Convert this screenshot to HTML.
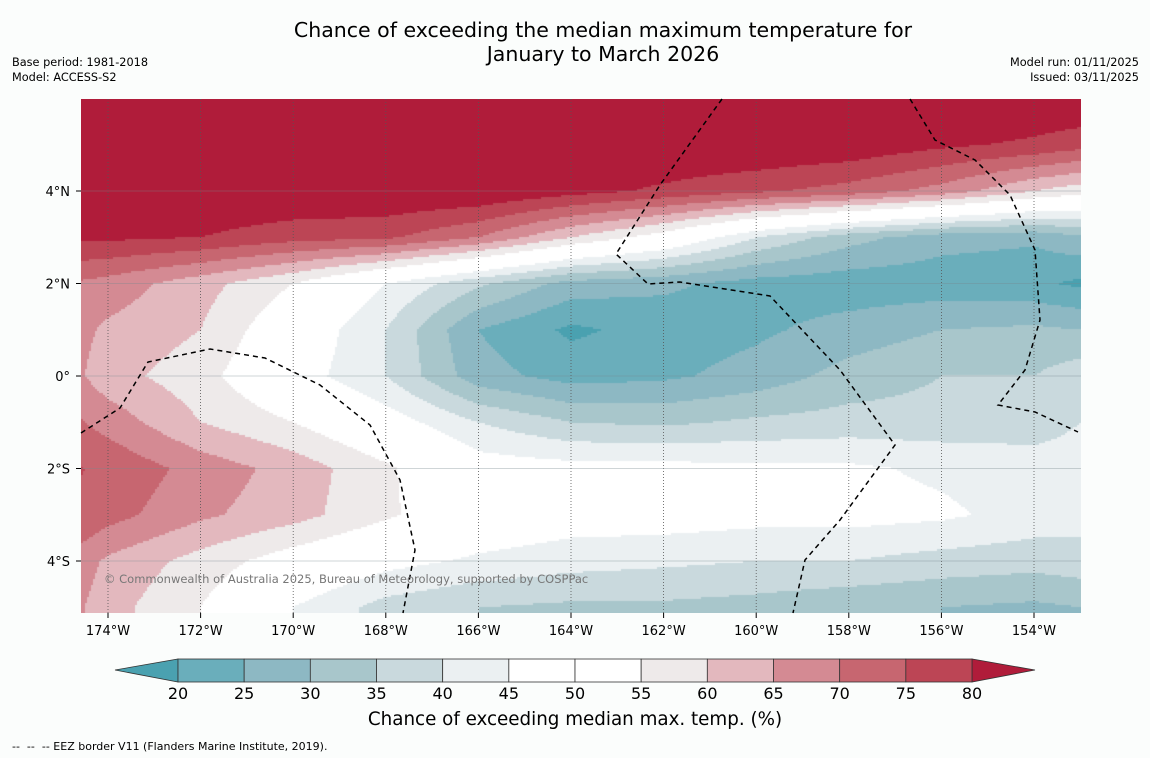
<!DOCTYPE html>
<html><head><meta charset="utf-8"><style>
body{margin:0;background:#fbfdfc;width:1150px;height:758px;overflow:hidden;font-family:"DejaVu Sans","Liberation Sans",sans-serif;position:relative}
.t{position:absolute;color:#000;white-space:nowrap}
</style></head><body>
<div class="t" style="left:0;width:1206px;top:18px;text-align:center;font-size:20.5px;line-height:24px">Chance of exceeding the median maximum temperature for<br>January to March 2026</div>
<div class="t" style="left:12px;top:55px;font-size:11.3px;line-height:15px">Base period: 1981-2018<br>Model: ACCESS-S2</div>
<div class="t" style="right:11px;top:55px;font-size:11.3px;line-height:15px;text-align:right">Model run: 01/11/2025<br>Issued: 03/11/2025</div>
<canvas id="map" width="1000" height="514" style="position:absolute;left:81px;top:99px"></canvas>
<svg id="ov" width="1150" height="758" style="position:absolute;left:0;top:0"></svg>
<div class="t" style="left:104px;top:572px;font-size:11.5px;color:#777">© Commonwealth of Australia 2025, Bureau of Meteorology, supported by COSPPac</div>
<div class="t" style="left:0;width:1150px;text-align:center;top:709px;font-size:18.3px">Chance of exceeding median max. temp. (%)</div>
<div class="t" style="left:12px;top:740px;font-size:11px">-- &nbsp;-- &nbsp;-- EEZ border V11 (Flanders Marine Institute, 2019).</div>
<script>
const lons=[-175,-174,-172,-170,-168,-166,-164,-162,-160,-158,-156,-154,-153];
const lats=[6,5,4,3,2,1,0,-1,-2,-3,-4,-5];
const grid=[
[85,85,85,85,85,85,85,85,85,85,85,85,85],
[85,85,85,85,85,85,85,85,85,84,81,79,77],
[85,85,85,85,85,85,82,79,76,73,68,60,57],
[81,81,80,77,76,70,60,52,40,32,27,26,29],
[70,68,62,55,45,36,28,26,23,22,22,21,19],
[68,64,60,50,40,25,19,22,24,27,30,31,30],
[68,62,57,48,40,27,23,24,27,32,35,35,38],
[72,68,60,55,48,40,35,34,36,37,37,38,40],
[76,74,68,63,56,48,47,47,46,46,44,42,42],
[76,72,66,62,56,50,48,48,47,47,46,43,42],
[70,64,58,52,47,44,42,41,40,40,38,37,38],
[68,62,55,45,38,35,34,34,33,31,30,29,30]];
const levels=[20,25,30,35,40,45,50,55,60,65,70,75,80];
const colors=["#4aa1b0","#6aaebb","#8db8c3","#a8c6cb","#c9d9dd","#ebf0f2","#ffffff","#ffffff","#eeeaea","#e3b8be","#d48a93","#c76670","#bc4555","#b01c3a"];
const tickLons=[-174,-172,-170,-168,-166,-164,-162,-160,-158,-156,-154];
const tickLats=[4,2,0,-2,-4];
const cbTicks=[20,25,30,35,40,45,50,55,60,65,70,75,80];
const X=lon=>108+(lon+174)*46.3;
const Y=lat=>376-lat*46.25;
const lonOf=x=>-174+(x-108)/46.3, latOf=y=>(376-y)/46.25;
function idx(arr,v,desc){for(let i=0;i<arr.length-1;i++){const a=arr[i],b=arr[i+1];if(desc?(v<=a&&v>=b):(v>=a&&v<=b))return [i,(v-a)/(b-a)];}return desc?(v>arr[0]?[0,0]:[arr.length-2,1]):(v<arr[0]?[0,0]:[arr.length-2,1]);}
function val(lon,lat){const [i,fx]=idx(lons,lon,false);const [j,fy]=idx(lats,lat,true);
const a=grid[j][i],b=grid[j][i+1],c=grid[j+1][i],d=grid[j+1][i+1];
return a*(1-fx)*(1-fy)+b*fx*(1-fy)+c*(1-fx)*fy+d*fx*fy;}
function col(v){let k=0;while(k<levels.length&&v>=levels[k])k++;return colors[k];}
const ctx=document.getElementById('map').getContext('2d');
const s=2;
for(let py=0;py<514;py+=s)for(let px=0;px<1000;px+=s){
ctx.fillStyle=col(val(lonOf(px+81+s/2),latOf(py+99+s/2)));ctx.fillRect(px,py,s,s);}
const NS='http://www.w3.org/2000/svg',ov=document.getElementById('ov');
function mk(t,a){const e=document.createElementNS(NS,t);for(const k in a)e.setAttribute(k,a[k]);ov.appendChild(e);return e;}
tickLons.forEach(l=>{const x=X(l);
const g=mk('line',{x1:x,y1:99,x2:x,y2:613,stroke:'#555','stroke-width':0.8,'stroke-dasharray':'1,2'});


mk('line',{x1:x,y1:613,x2:x,y2:618,stroke:'#000'});
const t=mk('text',{x:x,y:635,'text-anchor':'middle','font-size':13,'font-family':'DejaVu Sans,sans-serif'});t.textContent=Math.abs(l)+'°W';

});
tickLats.forEach(l=>{const y=Y(l);
const g=mk('line',{x1:81,y1:y,x2:1081,y2:y,stroke:'#7a8a90','stroke-width':0.6,opacity:0.7});


mk('line',{x1:76,y1:y,x2:81,y2:y,stroke:'#000'});
const t=mk('text',{x:70,y:y+5,'text-anchor':'end','font-size':13,'font-family':'DejaVu Sans,sans-serif'});t.textContent=l===0?'0°':Math.abs(l)+'°'+(l>0?'N':'S');

});
const eez=["M722,99 L660,185 L616,254 L648,284 L680,282 L770,296 L840,370 L895,445 L840,520 L805,560 L793,613",
"M910,99 L935,140 L975,160 L1010,195 L1035,250 L1040,320 L1025,370 L998,405 L1035,412 L1078,432",
"M81,433 L120,408 L148,362 L210,349 L265,358 L320,385 L370,425 L400,480 L415,550 L403,613"];
eez.forEach(d=>{const p=mk('path',{d:d,fill:'none',stroke:'#000','stroke-width':1.5,'stroke-dasharray':'5,4'});

});
const cx=v=>178+(v-20)*(794/60);
mk('polygon',{points:'115,670 178,659 178,682',fill:colors[0],stroke:'#333','stroke-width':0.8});
mk('polygon',{points:'1035,670 972,659 972,682',fill:colors[13],stroke:'#333','stroke-width':0.8});
for(let k=0;k<12;k++){const r=mk('rect',{x:cx(levels[k]),y:659,width:cx(levels[k+1])-cx(levels[k]),height:23,fill:colors[k+1],stroke:'#333','stroke-width':0.8});

}
cbTicks.forEach(v=>{const t=mk('text',{x:cx(v),y:699,'text-anchor':'middle','font-size':16,'font-family':'DejaVu Sans,sans-serif'});t.textContent=v;

});
</script>
</body></html>
